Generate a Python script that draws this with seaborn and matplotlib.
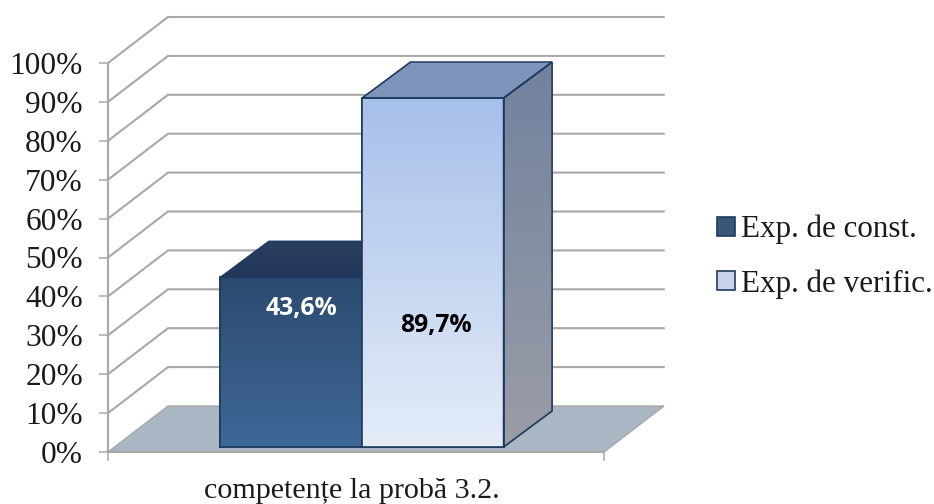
import numpy as np
import pandas as pd
import matplotlib
matplotlib.use("Agg")
import matplotlib.pyplot as plt
from matplotlib.colors import LinearSegmentedColormap
from matplotlib.patches import Polygon
import seaborn as sns

category = "competențe la probă 3.2."
series = ["Exp. de const.", "Exp. de verific."]
values = [43.6, 89.7]
labels = ["43,6%", "89,7%"]
label_y = [37.0, 32.4]
label_shift_px = [10, 3]
label_colors = ["white", "black"]
yticks = list(range(0, 101, 10))
ytick_labels = [f"{v}%" for v in yticks]

W, H = 934, 504
AX_L, AX_R, AX_T, AX_B = 108, 604, 63, 452
PX_X = 354.0            # pixels per category unit
PX_Y = (AX_B - AX_T) / 100.0

sns.set_theme(style="white")
plt.rcParams["font.family"] = ["Liberation Serif", "DejaVu Serif"]

fig = plt.figure(figsize=(W / 100, H / 100), dpi=100, facecolor="white")
ax = fig.add_axes([AX_L / W, 1 - AX_B / H, (AX_R - AX_L) / W, (AX_B - AX_T) / H])

df = pd.DataFrame({"cat": [category] * 2, "series": series, "value": values})
sns.barplot(data=df, x="cat", y="value", hue="series", hue_order=series,
            palette=["#2f5580", "#c5d4ee"], width=0.8, ax=ax,
            edgecolor="#1f3a5f", linewidth=1.2, legend=True)
xlim = ((AX_L - 362) / PX_X, (AX_R - 362) / PX_X)


def dx(px):
    return px / PX_X


def dy(px):
    return px / PX_Y


def gradient(poly_xy, top, bottom, z):
    xy = np.asarray(poly_xy)
    cmap = LinearSegmentedColormap.from_list("g", [bottom, top])
    grid = np.linspace(0, 1, 128).reshape(-1, 1)
    poly = Polygon(xy, closed=True, facecolor="none", edgecolor="none",
                   transform=ax.transData)
    ax.add_patch(poly)
    im = ax.imshow(grid, origin="lower", cmap=cmap, aspect="auto",
                   extent=(xy[:, 0].min(), xy[:, 0].max(), xy[:, 1].min(), xy[:, 1].max()),
                   zorder=z, clip_on=True)
    im.set_clip_path(poly)
    return im


# back wall grid lines and the floor
GRID_DX, GRID_DY = dx(60), dy(46)
for v in yticks[1:]:
    ax.plot([xlim[0], xlim[0] + GRID_DX, xlim[1] + GRID_DX],
            [v, v + GRID_DY, v + GRID_DY], color="#a8a8a8", lw=1.5,
            clip_on=False, zorder=2, solid_joinstyle="miter")
floor = [(xlim[0], 0), (xlim[0] + GRID_DX, GRID_DY),
         (xlim[1] + GRID_DX, GRID_DY), (xlim[1], 0)]
ax.add_patch(Polygon(floor, closed=True, facecolor="#a9b6c3", edgecolor="#a8a8a8",
                     lw=1, clip_on=False, zorder=1.5))

# 3D bars
BAR_LIFT = dy(5)
BAR_DX, BAR_DY = dx(48.5), dy(36)
top_colors = [("#2a3f5f", "#22375a"), ("#7f94bb", "#7f94bb")]
side_colors = [("#2a3f5f", "#2a3f5f"), ("#71829f", "#9a9da6")]
front_colors = [("#2c4a70", "#3f6897"), ("#a7c0ea", "#e4ecf8")]

bars = list(ax.patches)[:2]
for i, bar in enumerate(bars):
    x0, w, h = bar.get_x(), bar.get_width(), bar.get_height()
    x1 = x0 + w
    y0, y1 = BAR_LIFT, h + BAR_LIFT
    z = 3 + i
    bar.set_y(BAR_LIFT)
    bar.set_zorder(z)
    front = [(x0, y0), (x1, y0), (x1, y1), (x0, y1)]
    top = [(x0, y1), (x1, y1), (x1 + BAR_DX, y1 + BAR_DY), (x0 + BAR_DX, y1 + BAR_DY)]
    side = [(x1, y0), (x1 + BAR_DX, y0 + BAR_DY), (x1 + BAR_DX, y1 + BAR_DY), (x1, y1)]
    for xy, (ct, cb), dz in ((side, side_colors[i], 0.1), (top, top_colors[i], 0.1),
                             (front, front_colors[i], 0.1)):
        gradient(xy, ct, cb, z + dz)
        ax.add_patch(Polygon(xy, closed=True, facecolor="none", edgecolor="#1f3a5f",
                             lw=1.2, zorder=z + 0.2, clip_on=False))
    ax.text(x0 + w / 2 + dx(label_shift_px[i]), label_y[i], labels[i], color=label_colors[i],
            ha="center", va="center", fontsize=17.8, fontweight="bold",
            family="Open Sans", zorder=6)

ax.set_xlim(*xlim)
ax.set_ylim(0, 100)
ax.set_yticks(yticks, ytick_labels)
ax.set_xticks([-0.028], [category])
ax.set_xticks(list(xlim), minor=True)
ax.set_xlabel("")
ax.set_ylabel("")
ax.tick_params(axis="y", left=True, length=6.5, width=1.1, color="#a8a8a8",
               pad=11.5, labelsize=22.6, labelcolor="#1a1a1a")
ax.tick_params(axis="x", which="major", bottom=False, length=0, pad=19,
               labelsize=21.6, labelcolor="#1a1a1a")
ax.tick_params(axis="x", which="minor", bottom=True, length=6.5, width=1.1, color="#a8a8a8")
for name, spine in ax.spines.items():
    spine.set_visible(name in ("left", "bottom"))
    spine.set_color("#a8a8a8")
    spine.set_linewidth(1.5)
    spine.set_zorder(2.5)
ax.patch.set_alpha(0)

leg = ax.legend(loc="upper left", bbox_to_anchor=(717 / W, 1 - 215 / H),
                bbox_transform=fig.transFigure, frameon=False, fontsize=22.4,
                handlelength=0.58, handleheight=0.58, handletextpad=0.2,
                labelspacing=0.79, borderpad=0, borderaxespad=0, title=None)
for t in leg.get_texts():
    t.set_color("#1a1a1a")

fig.savefig("out.png", dpi=100)
